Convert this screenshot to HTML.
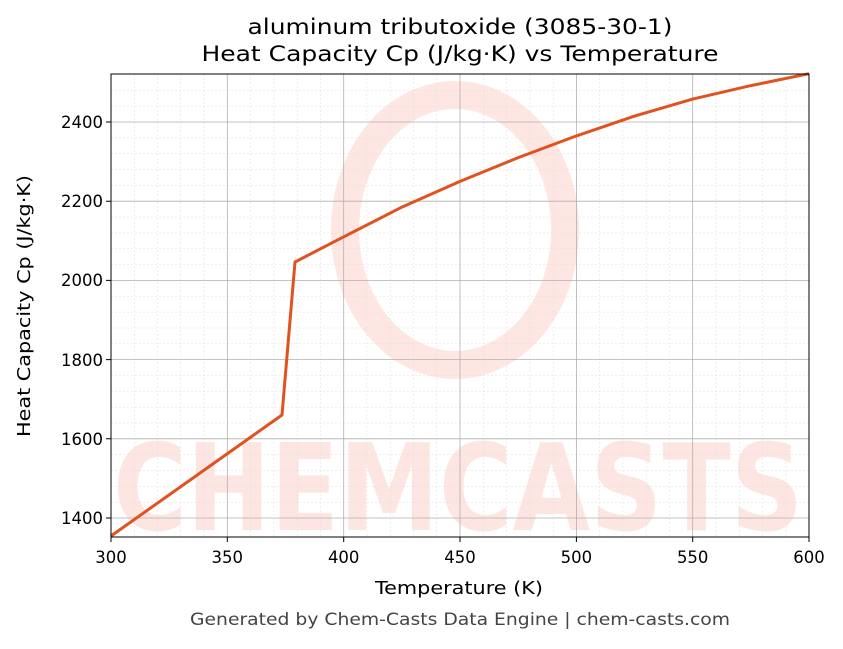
<!DOCTYPE html>
<html><head><meta charset="utf-8"><style>body{margin:0;background:#fff}</style></head><body>
<svg width="843" height="644" xmlns="http://www.w3.org/2000/svg" font-family="DejaVu Sans, Liberation Sans, sans-serif">
<rect width="843" height="644" fill="#fff"/>
<g opacity="0.16">
<text x="458" y="530" font-size="120" font-weight="bold" fill="#f76a50" text-anchor="middle" textLength="690" lengthAdjust="spacingAndGlyphs">CHEMCASTS</text>
<ellipse cx="455" cy="230" rx="110" ry="135" fill="none" stroke="#f76a50" stroke-width="28"/>
</g>
<g stroke="#ddd" stroke-width="0.5" stroke-dasharray="2,2">
<path d="M134.3 74V537M157.5 74V537M180.8 74V537M204.1 74V537M250.6 74V537M273.9 74V537M297.2 74V537M320.5 74V537M366.9 74V537M390.2 74V537M413.5 74V537M436.8 74V537M483.3 74V537M506.6 74V537M529.9 74V537M553.2 74V537M599.6 74V537M622.9 74V537M646.2 74V537M669.5 74V537M716 74V537M739.3 74V537M762.6 74V537M785.9 74V537"/>
<path d="M111 502.2H809M111 486.3H809M111 470.5H809M111 454.7H809M111 423H809M111 407.2H809M111 391.3H809M111 375.5H809M111 343.8H809M111 328H809M111 312.1H809M111 296.3H809M111 264.6H809M111 248.8H809M111 232.9H809M111 217.1H809M111 185.4H809M111 169.6H809M111 153.7H809M111 137.9H809M111 106.2H809M111 90.4H809"/>
</g>
<g stroke="#b0b0b0" stroke-width="0.8">
<path d="M227.3 74V537M343.7 74V537M460 74V537M576.4 74V537M692.7 74V537"/>
<path d="M111 518H809M111 438.8H809M111 359.6H809M111 280.4H809M111 201.2H809M111 122H809"/>
</g>
<polyline fill="none" stroke="#e0521f" stroke-width="3" stroke-linejoin="round" points="111,536 282,415 295,262 343.7,236.8 401.9,207.1 460,181.4 518.2,157.6 576.4,135.9 634.6,116.1 692.7,99.1 750.9,85.6 809,73.7"/>
<rect x="111" y="74" width="698" height="463" fill="none" stroke="#000" stroke-width="1"/>
<g stroke="#000" stroke-width="1">
<path d="M111 537v5M227.3 537v5M343.7 537v5M460 537v5M576.4 537v5M692.7 537v5M809 537v5"/>
<path d="M111 518h-5M111 438.8h-5M111 359.6h-5M111 280.4h-5M111 201.2h-5M111 122h-5"/>
</g>
<g font-size="16.5" fill="#000">
<g text-anchor="middle">
<text x="111" y="563">300</text><text x="227.3" y="563">350</text><text x="343.7" y="563">400</text><text x="460" y="563">450</text><text x="576.4" y="563">500</text><text x="692.7" y="563">550</text><text x="809" y="563">600</text>
</g>
<g text-anchor="end">
<text x="103" y="524">1400</text><text x="103" y="445">1600</text><text x="103" y="366">1800</text><text x="103" y="286">2000</text><text x="103" y="207">2200</text><text x="103" y="128">2400</text>
</g>
<text x="459" y="594" text-anchor="middle" font-size="17.5" textLength="168" lengthAdjust="spacingAndGlyphs">Temperature (K)</text>
<text transform="translate(30 306) rotate(-90)" text-anchor="middle" font-size="17.5" textLength="262" lengthAdjust="spacingAndGlyphs">Heat Capacity Cp (J/kg·K)</text>
<text x="460" y="34" text-anchor="middle" font-size="21" textLength="425" lengthAdjust="spacingAndGlyphs">aluminum tributoxide (3085-30-1)</text>
<text x="460" y="61" text-anchor="middle" font-size="21" textLength="517" lengthAdjust="spacingAndGlyphs">Heat Capacity Cp (J/kg·K) vs Temperature</text>
<text x="460" y="625" text-anchor="middle" font-size="16.5" fill="#444" textLength="540" lengthAdjust="spacingAndGlyphs">Generated by Chem-Casts Data Engine | chem-casts.com</text>
</g>
</svg>
</body></html>
